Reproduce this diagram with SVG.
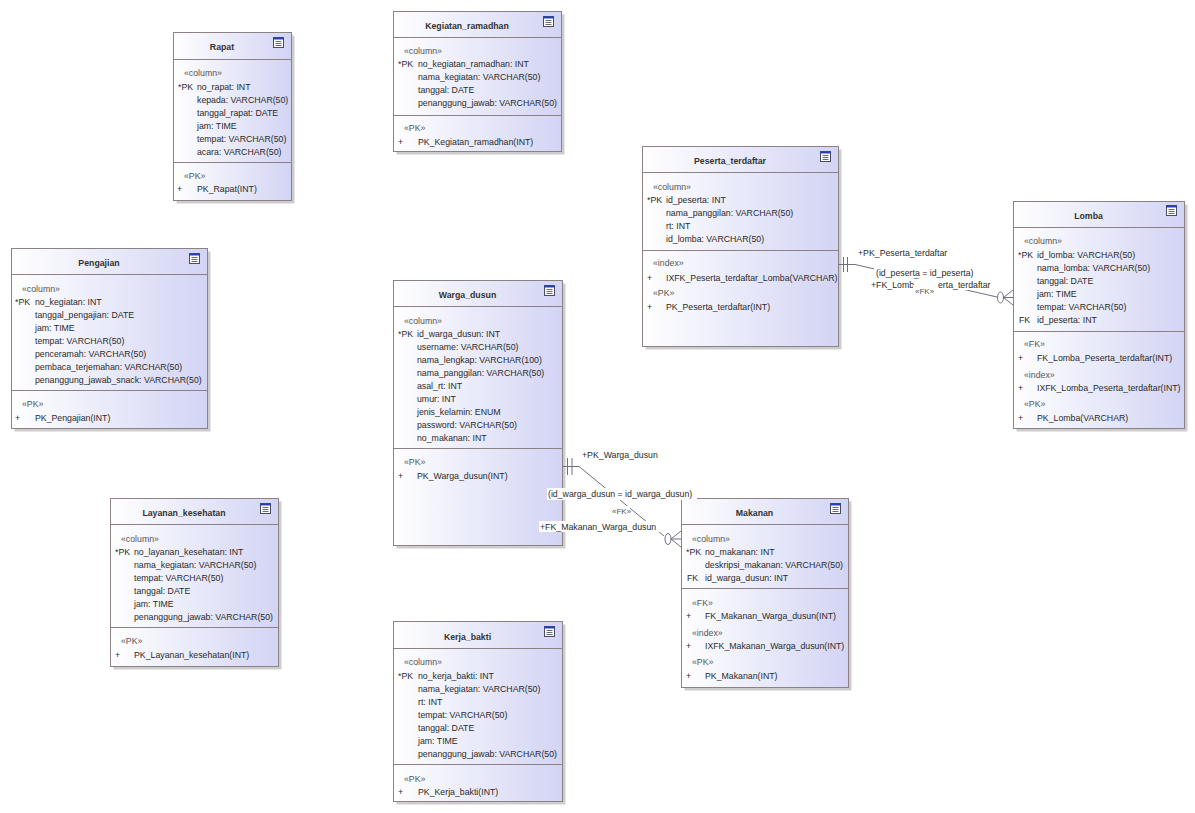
<svg xmlns="http://www.w3.org/2000/svg" width="1195" height="813" viewBox="0 0 1195 813">
<style>
text{font-family:"Liberation Sans",Arial,sans-serif;font-size:8.75px;fill:#2a2a2a}
.t{font-weight:bold;text-anchor:middle;fill:#333}
.s{fill:#555}
.box{fill:url(#g);stroke:#8e8184;stroke-width:1}
.sh{fill:#cdcdcd}
.dv{stroke:#8e8184;stroke-width:1;fill:none}
.ln{fill:none;stroke:#6f6f80;stroke-width:1}
.bg{fill:#fff}
.fk{font-size:8px;fill:#555}
</style>
<defs>
<linearGradient id="g" x1="0" y1="0" x2="1" y2="0"><stop offset="0" stop-color="#ffffff"/><stop offset="1" stop-color="#d2d4f4"/></linearGradient>
<g id="ico"><rect x="0.5" y="0.5" width="10" height="10" fill="#fff" stroke="#4b4b66"/><rect x="0.5" y="0.5" width="10" height="2" fill="#2340c0"/><path d="M2.5 4.5h6M2.5 6.5h6M2.5 8.5h6" stroke="#6a6a6a"/></g>
</defs>
<rect width="1195" height="813" fill="#fff"/>

<g id="Rapat">
<rect class="sh" x="176.5" y="35.5" width="118" height="168"/>
<rect class="box" x="173.5" y="32.5" width="118" height="168"/>
<path class="dv" d="M173.5 59.5H291.5M173.5 162.5H291.5"/>
<use href="#ico" x="273" y="37"/>
<text class="t" x="222" y="50">Rapat</text>
<text class="s" x="184" y="76">«column»</text>
<text x="178" y="90">*PK</text><text x="197" y="90">no_rapat: INT</text>
<text x="197" y="103">kepada: VARCHAR(50)</text>
<text x="197" y="116">tanggal_rapat: DATE</text>
<text x="197" y="129">jam: TIME</text>
<text x="197" y="142">tempat: VARCHAR(50)</text>
<text x="197" y="155">acara: VARCHAR(50)</text>
<text class="s" x="184" y="179">«PK»</text>
<text x="177" y="192">+</text><text x="197" y="192">PK_Rapat(INT)</text>
</g>

<g id="Kegiatan_ramadhan">
<rect class="sh" x="396.5" y="14.5" width="168" height="140"/>
<rect class="box" x="393.5" y="11.5" width="168" height="140"/>
<path class="dv" d="M393.5 37.5H561.5M393.5 115.5H561.5"/>
<use href="#ico" x="543" y="16"/>
<text class="t" x="467" y="29">Kegiatan_ramadhan</text>
<text class="s" x="404" y="54">«column»</text>
<text x="398" y="67">*PK</text><text x="418" y="67">no_kegiatan_ramadhan: INT</text>
<text x="418" y="80">nama_kegiatan: VARCHAR(50)</text>
<text x="418" y="93">tanggal: DATE</text>
<text x="418" y="106">penanggung_jawab: VARCHAR(50)</text>
<text class="s" x="404" y="131">«PK»</text>
<text x="398" y="145">+</text><text x="418" y="145">PK_Kegiatan_ramadhan(INT)</text>
</g>

<g id="Peserta_terdaftar">
<rect class="sh" x="645.5" y="149.5" width="196" height="200"/>
<rect class="box" x="642.5" y="146.5" width="196" height="200"/>
<path class="dv" d="M642.5 172.5H838.5M642.5 250.5H838.5"/>
<use href="#ico" x="820" y="151"/>
<text class="t" x="730" y="164">Peserta_terdaftar</text>
<text class="s" x="653" y="190">«column»</text>
<text x="647" y="203">*PK</text><text x="666" y="203">id_peserta: INT</text>
<text x="666" y="216">nama_panggilan: VARCHAR(50)</text>
<text x="666" y="229">rt: INT</text>
<text x="666" y="242">id_lomba: VARCHAR(50)</text>
<text class="s" x="653" y="266">«index»</text>
<text x="647" y="281">+</text><text x="666" y="281">IXFK_Peserta_terdaftar_Lomba(VARCHAR)</text>
<text class="s" x="653" y="296">«PK»</text>
<text x="647" y="310">+</text><text x="666" y="310">PK_Peserta_terdaftar(INT)</text>
</g>

<g id="Lomba">
<rect class="sh" x="1016.5" y="204.5" width="171" height="227"/>
<rect class="box" x="1013.5" y="201.5" width="171" height="227"/>
<path class="dv" d="M1013.5 227.5H1184.5M1013.5 331.5H1184.5"/>
<use href="#ico" x="1166" y="205"/>
<text class="t" x="1088.5" y="219">Lomba</text>
<text class="s" x="1024" y="244">«column»</text>
<text x="1018" y="258">*PK</text><text x="1037" y="258">id_lomba: VARCHAR(50)</text>
<text x="1037" y="271">nama_lomba: VARCHAR(50)</text>
<text x="1037" y="284">tanggal: DATE</text>
<text x="1037" y="297">jam: TIME</text>
<text x="1037" y="310">tempat: VARCHAR(50)</text>
<text x="1019" y="323">FK</text><text x="1037" y="323">id_peserta: INT</text>
<text class="s" x="1024" y="347">«FK»</text>
<text x="1018" y="361">+</text><text x="1037" y="361">FK_Lomba_Peserta_terdaftar(INT)</text>
<text class="s" x="1024" y="378">«index»</text>
<text x="1018" y="391">+</text><text x="1037" y="391">IXFK_Lomba_Peserta_terdaftar(INT)</text>
<text class="s" x="1024" y="407">«PK»</text>
<text x="1018" y="421">+</text><text x="1037" y="421">PK_Lomba(VARCHAR)</text>
</g>

<g id="Pengajian">
<rect class="sh" x="14.5" y="251.5" width="196" height="180"/>
<rect class="box" x="11.5" y="248.5" width="196" height="180"/>
<path class="dv" d="M11.5 274.5H207.5M11.5 390.5H207.5"/>
<use href="#ico" x="189" y="253"/>
<text class="t" x="99" y="266">Pengajian</text>
<text class="s" x="22" y="292">«column»</text>
<text x="15" y="305">*PK</text><text x="35" y="305">no_kegiatan: INT</text>
<text x="35" y="318">tanggal_pengajian: DATE</text>
<text x="35" y="331">jam: TIME</text>
<text x="35" y="344">tempat: VARCHAR(50)</text>
<text x="35" y="357">penceramah: VARCHAR(50)</text>
<text x="35" y="370">pembaca_terjemahan: VARCHAR(50)</text>
<text x="35" y="383">penanggung_jawab_snack: VARCHAR(50)</text>
<text class="s" x="22" y="407">«PK»</text>
<text x="15" y="421">+</text><text x="35" y="421">PK_Pengajian(INT)</text>
</g>

<g id="Warga_dusun">
<rect class="sh" x="396.5" y="283.5" width="169" height="265"/>
<rect class="box" x="393.5" y="280.5" width="169" height="265"/>
<path class="dv" d="M393.5 306.5H562.5M393.5 448.5H562.5"/>
<use href="#ico" x="544" y="285"/>
<text class="t" x="467.5" y="298">Warga_dusun</text>
<text class="s" x="404" y="324">«column»</text>
<text x="398" y="337">*PK</text><text x="417" y="337">id_warga_dusun: INT</text>
<text x="417" y="350">username: VARCHAR(50)</text>
<text x="417" y="363">nama_lengkap: VARCHAR(100)</text>
<text x="417" y="376">nama_panggilan: VARCHAR(50)</text>
<text x="417" y="389">asal_rt: INT</text>
<text x="417" y="402">umur: INT</text>
<text x="417" y="415">jenis_kelamin: ENUM</text>
<text x="417" y="428">password: VARCHAR(50)</text>
<text x="417" y="441">no_makanan: INT</text>
<text class="s" x="404" y="465">«PK»</text>
<text x="398" y="479">+</text><text x="417" y="479">PK_Warga_dusun(INT)</text>
</g>

<g id="Makanan">
<rect class="sh" x="684.5" y="501.5" width="167" height="189"/>
<rect class="box" x="681.5" y="498.5" width="167" height="189"/>
<path class="dv" d="M681.5 524.5H848.5M681.5 588.5H848.5"/>
<use href="#ico" x="830" y="503"/>
<text class="t" x="754.5" y="516">Makanan</text>
<text class="s" x="692" y="542">«column»</text>
<text x="686" y="555">*PK</text><text x="705" y="555">no_makanan: INT</text>
<text x="705" y="568">deskripsi_makanan: VARCHAR(50)</text>
<text x="687" y="581">FK</text><text x="705" y="581">id_warga_dusun: INT</text>
<text class="s" x="692" y="606">«FK»</text>
<text x="686" y="619">+</text><text x="705" y="619">FK_Makanan_Warga_dusun(INT)</text>
<text class="s" x="692" y="636">«index»</text>
<text x="686" y="649">+</text><text x="705" y="649">IXFK_Makanan_Warga_dusun(INT)</text>
<text class="s" x="692" y="665">«PK»</text>
<text x="686" y="679">+</text><text x="705" y="679">PK_Makanan(INT)</text>
</g>

<g id="Layanan_kesehatan">
<rect class="sh" x="113.5" y="501.5" width="168" height="168"/>
<rect class="box" x="110.5" y="498.5" width="168" height="168"/>
<path class="dv" d="M110.5 524.5H278.5M110.5 627.5H278.5"/>
<use href="#ico" x="260" y="503"/>
<text class="t" x="184" y="516">Layanan_kesehatan</text>
<text class="s" x="121" y="542">«column»</text>
<text x="115" y="555">*PK</text><text x="134" y="555">no_layanan_kesehatan: INT</text>
<text x="134" y="568">nama_kegiatan: VARCHAR(50)</text>
<text x="134" y="581">tempat: VARCHAR(50)</text>
<text x="134" y="594">tanggal: DATE</text>
<text x="134" y="607">jam: TIME</text>
<text x="134" y="620">penanggung_jawab: VARCHAR(50)</text>
<text class="s" x="121" y="644">«PK»</text>
<text x="115" y="658">+</text><text x="134" y="658">PK_Layanan_kesehatan(INT)</text>
</g>

<g id="Kerja_bakti">
<rect class="sh" x="396.5" y="624.5" width="169" height="180"/>
<rect class="box" x="393.5" y="621.5" width="169" height="180"/>
<path class="dv" d="M393.5 648.5H562.5M393.5 764.5H562.5"/>
<use href="#ico" x="544" y="626"/>
<text class="t" x="467.5" y="640">Kerja_bakti</text>
<text class="s" x="404" y="665">«column»</text>
<text x="398" y="679">*PK</text><text x="418" y="679">no_kerja_bakti: INT</text>
<text x="418" y="692">nama_kegiatan: VARCHAR(50)</text>
<text x="418" y="705">rt: INT</text>
<text x="418" y="718">tempat: VARCHAR(50)</text>
<text x="418" y="731">tanggal: DATE</text>
<text x="418" y="744">jam: TIME</text>
<text x="418" y="757">penanggung_jawab: VARCHAR(50)</text>
<text class="s" x="404" y="782">«PK»</text>
<text x="398" y="795">+</text><text x="418" y="795">PK_Kerja_bakti(INT)</text>
</g>

<g id="connectors">
<g id="fk_lomba_peserta">
<path class="ln" d="M838.5 264.5H855L997 297"/>
<path class="ln" d="M843.5 257V272M847.5 257V272"/>
<ellipse class="ln" cx="1000.5" cy="297.5" rx="3" ry="5.5"/>
<path class="ln" d="M1003.5 297.5L1013 290M1003.5 297.5H1013M1003.5 297.5L1013 305"/>
<text x="858" y="256">+PK_Peserta_terdaftar</text>
<rect class="bg" x="874" y="266" width="104" height="12"/>
<text x="876" y="276">(id_peserta = id_peserta)</text>
<rect class="bg" x="870" y="279" width="126" height="11"/>
<text x="871" y="288">+FK_Lomb</text>
<text x="938" y="288">erta_terdaftar</text>
<rect class="bg" x="913" y="285" width="24" height="11"/>
<text class="fk" x="915" y="294">«FK»</text>
</g>
<g id="fk_makanan_warga">
<path class="ln" d="M562.5 466.5H579L664 536"/>
<path class="ln" d="M567.5 458V475M572 458V475"/>
<ellipse class="ln" cx="668" cy="539" rx="3" ry="5.5"/>
<path class="ln" d="M671 539L681 531M671 539H681M671 539L681 547"/>
<text x="582" y="458">+PK_Warga_dusun</text>
<rect class="bg" x="547" y="488" width="150" height="12"/>
<text x="548" y="497">(id_warga_dusun = id_warga_dusun)</text>
<rect class="bg" x="610" y="506" width="20" height="10"/>
<text class="fk" x="612" y="514">«FK»</text>
<rect class="bg" x="539" y="521" width="124" height="11"/>
<text x="540" y="530">+FK_Makanan_Warga_dusun</text>
</g>
</g>
</svg>
